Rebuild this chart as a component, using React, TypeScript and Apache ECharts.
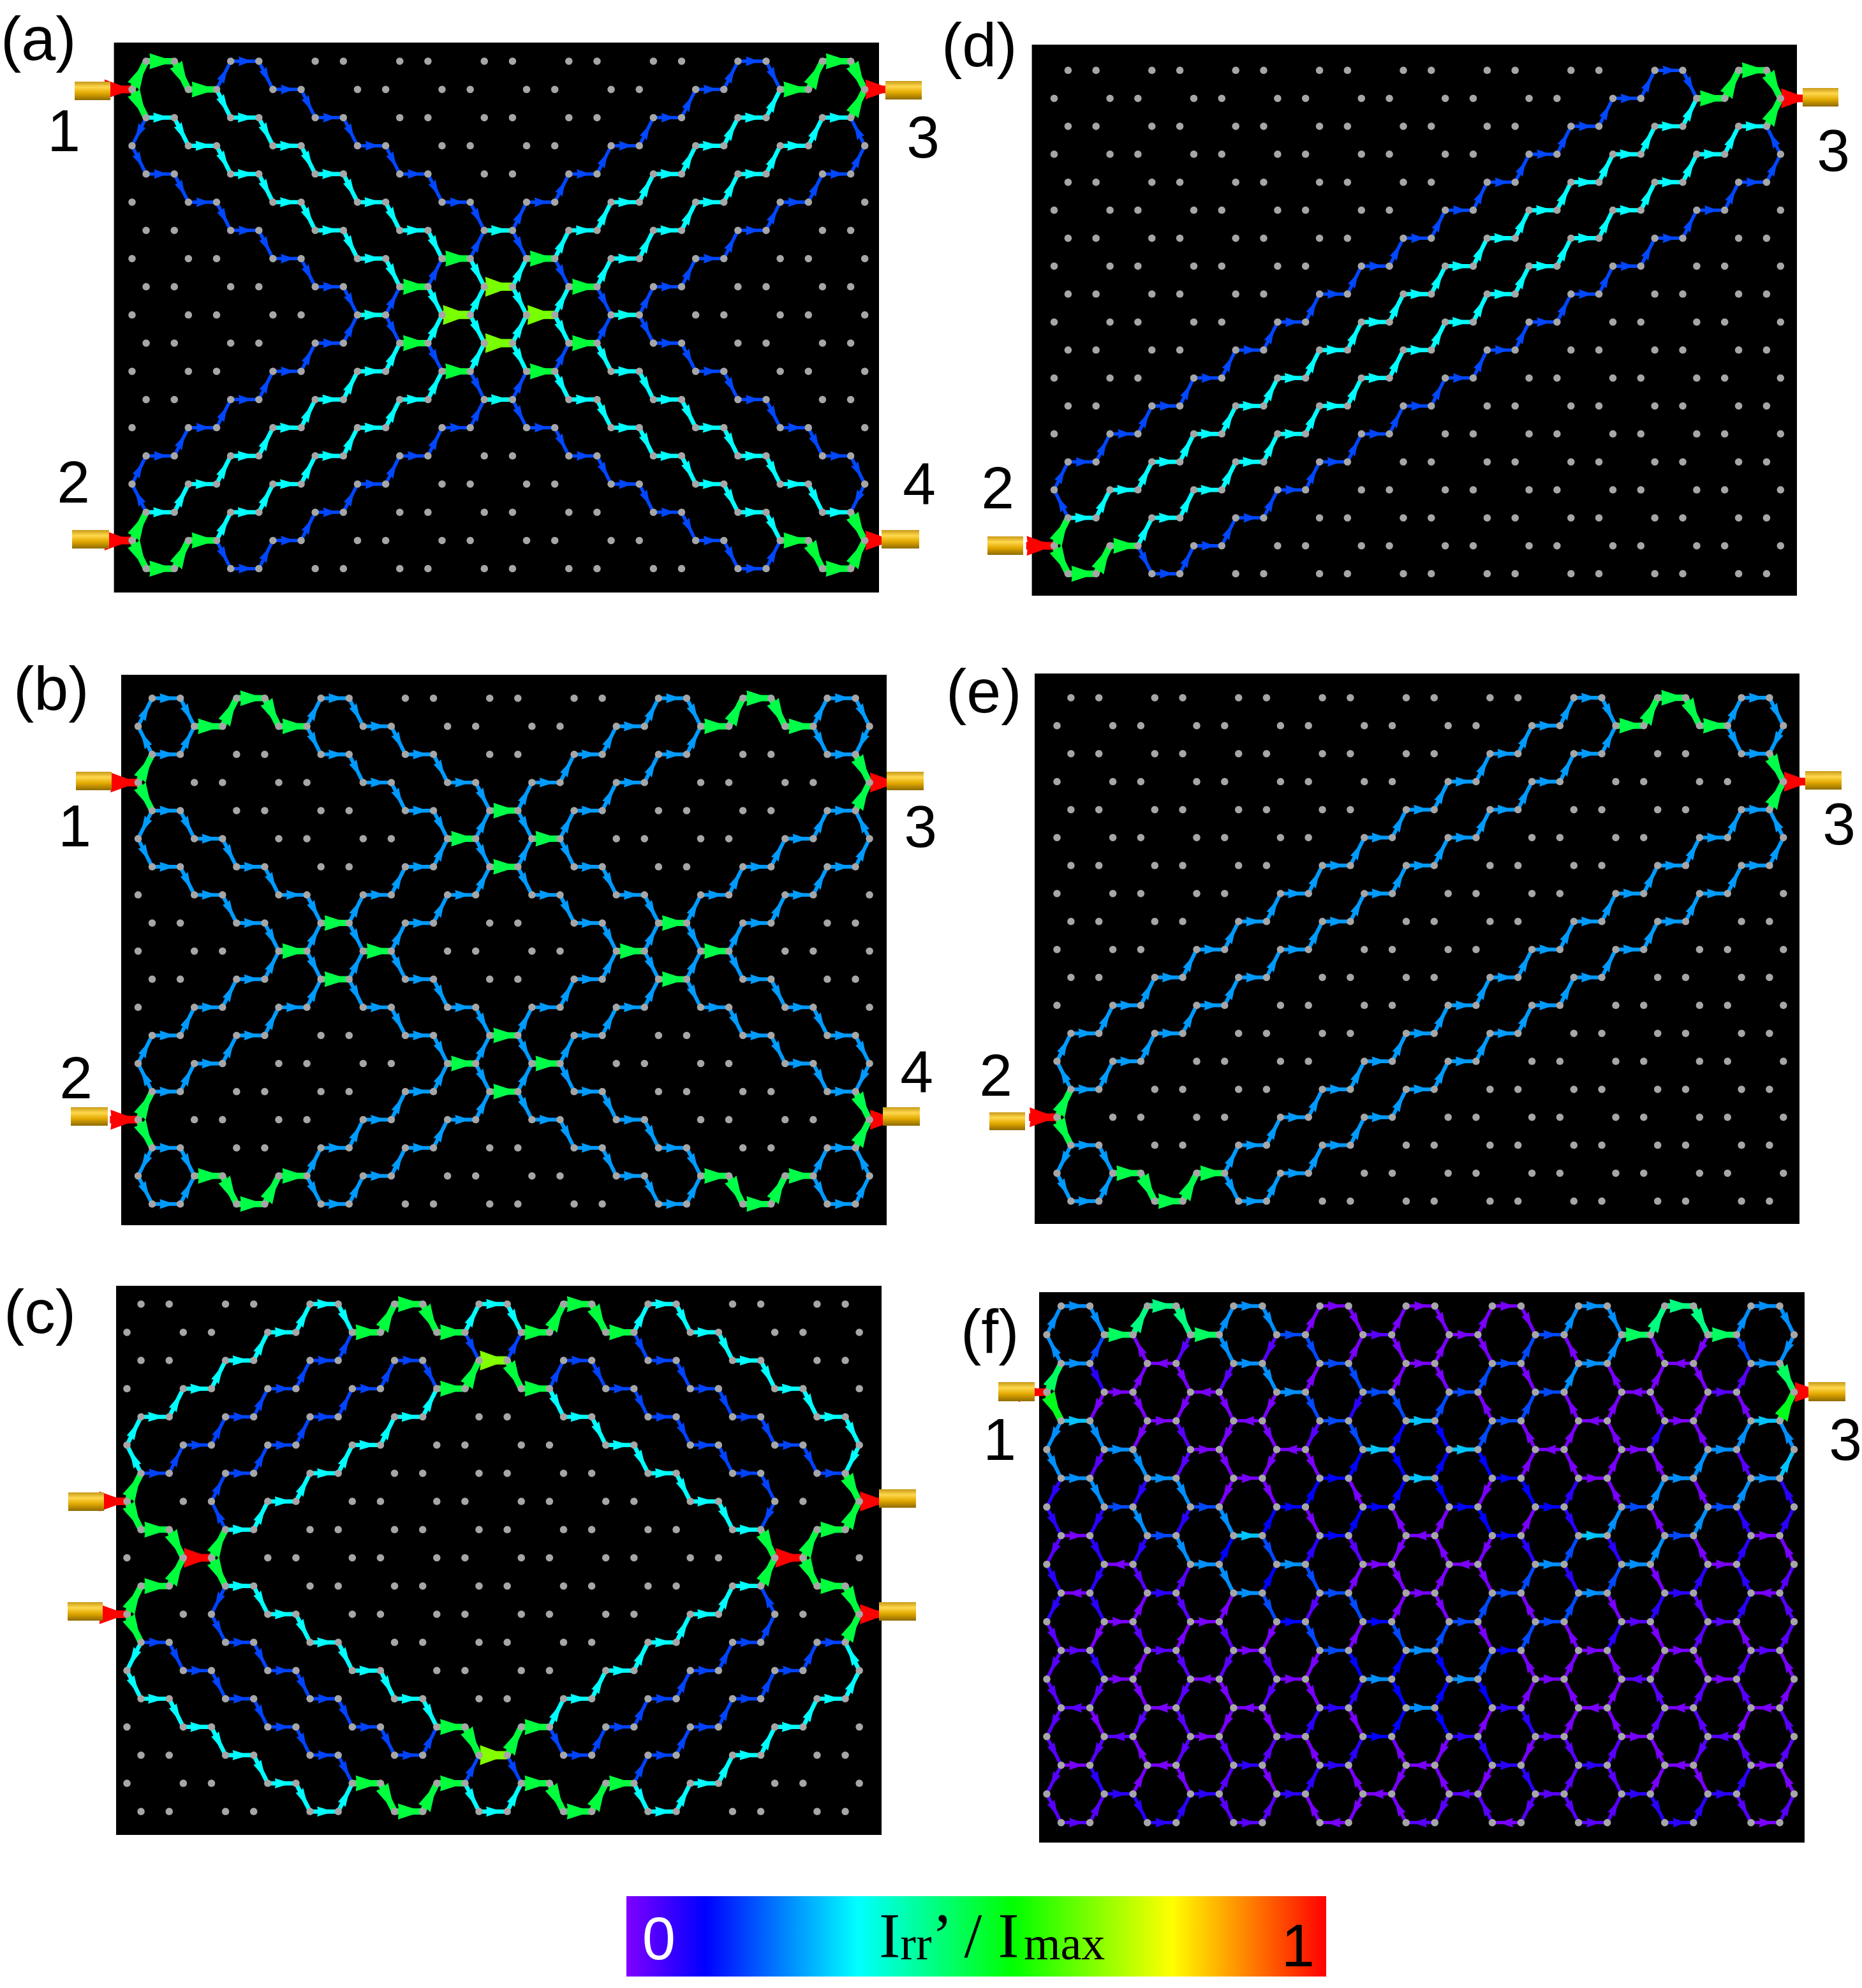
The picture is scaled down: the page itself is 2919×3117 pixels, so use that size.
import React, { useEffect, useRef } from "react";
import * as echarts from "echarts";

// ---- colour scale ----
const scaleStops = [0, 0.113, 0.33, 0.553, 0.78, 1];
const scaleColors = [[127, 0, 255], [0, 0, 255], [0, 255, 255], [0, 255, 0], [255, 255, 0], [255, 0, 0]];

// ---- lattice sites: columns in half-bond units ----
const latticeRows = [0, 1, 2, 3, 4, 5, 6, 7, 8, 9, 10, 11, 12, 13, 14, 15, 16, 17, 18];
const evenRowColumns = [1, 3, 7, 9, 13, 15, 19, 21, 25, 27, 31, 33, 37, 39, 43, 45, 49, 51];
const oddRowColumns = [0, 4, 6, 10, 12, 16, 18, 22, 24, 28, 30, 34, 36, 40, 42, 46, 48, 52];

// ---- current paths: moves h/H right/left bond, d/u right-down/up, D/U left-down/up ----
const rep = (s: string, n: number) => s.repeat(n);
const diagonalPaths = [
  "uhdhuh" + rep("dh", 14) + "dDd",
  "uhdh" + rep("dh", 15) + "d",
  "dh" + rep("dh", 16) + "u",
  "dDdh" + rep("dh", 14) + "uhdhu",
];
const diagonalCurrents = [0.173, 0.33, 0.33, 0.173];
const hexPaths = [
  "uUuhdhuhdh" + "uh" + rep("dh", 12) + "dDd",
  "uhuhuhdh" + "dh" + rep("dh", 12) + "d",
  "dh" + rep("dh", 12) + "dhdhuhuhu",
  "dDdh" + rep("dh", 12) + "uhdhuhdhuUu",
];
const hexCurrents = [0.245, 0.245, 0.245, 0.245];
const diamondPaths = [
  "uUuh" + rep("uh", 4) + "dhuhdh" + "uh" + "dhuhdhuh" + rep("dh", 4) + "dDd",
  "uh" + rep("uh", 5) + "uhdh" + "dh" + "uhuhdh" + rep("dh", 5) + "d",
  "dhdhuh" + rep("uh", 6) + rep("dh", 6) + "dhuhu",
  "dhdhuUuh" + rep("uh", 4) + "dhuhdhuh" + rep("dh", 4) + "dDdhuhu",
];
const diamondCurrents = [0.33, 0.17, 0.33, 0.17];

// ---- panel (f): one letter per bond; lower case = rightwards / downwards, upper case = reverse ----
const bondLevels: Record<string, number> = {
  a: 0.005, b: 0.035, c: 0.075, d: 0.115, e: 0.175, f: 0.235, g: 0.28, h: 0.44, i: 0.47, j: 0.53,
};
const fHorizontal = [
  "fhfaaafhf", "iiebaeii", "fAfeaefAf", "aAfeeeAb", "gaAegeAag", "faAggAaf", "ffadgdaff",
  "eeddddee", "aegdAdgea", "AffaAffa", "AcfeaefcA", "aaddeebb", "bbaefdaab", "aAaffaBa",
  "BAAcfcAAA", "BabdcbaB", "aAccAccAa", "cccABbcc", "bcbABAbca",
];
const fDiagonal = [
  "FfHhFfAaAaAaFfHhFf", "FEAbfbeAaAaEAFAaef", "IcAabfAeAaEaFAAaBi", "jaaaaaeceEAEAAAAAJ",
  "ffabaabeDdEAAACAFF", "fbfbaaaDdDdAAAAFBG", "cfcfaaDADdadCAFAFC", "ccfcfDaDAAdAcFAFCC",
  "bccfDeCbaAacEcFACA", "ccbBfDeAaAaEcEaCCB", "ccAbAebeAaEAEaCbCB", "babAbaeAeEaEACaBAB",
  "bcAbbbadDdEAAAAaBA", "bbababaCdDdAAABBBA", "babbaaCaDdAcAABBAB", "bbAbbBACAacabBAbBB",
  "bcAaBaCAaAacBbAaCA", "bBcCbBAaAbBbbBcCbB",
];

// ---- panel lists ----
type Edge = [number, number, number, number, number];
const panelNames = ["(a)", "(b)", "(c)", "(d)", "(e)", "(f)"];
const portRows = [
  { left: [1, 17], right: [1, 17] },
  { left: [3, 15], right: [3, 15] },
  { left: [7, 11], right: [7, 11] },
  { left: [17], right: [1] },
  { left: [15], right: [3] },
  { left: [3], right: [3] },
];
const portCurrent = 1;

// ---- layout ----
const W = 2919;
const H = 3117;
const panelBoxes = [
  { L: 178.6, T: 66.7, R: 1378, B: 929, x0: 207, u: 22.09, y0: 96, v: 44.2 },
  { L: 190, T: 1058, R: 1390, B: 1921, x0: 216.5, u: 22.05, y0: 1094.7, v: 44.06 },
  { L: 182, T: 2016, R: 1382, B: 2877, x0: 199, u: 22.08, y0: 2044.7, v: 44.2 },
  { L: 1617.6, T: 70, R: 2817, B: 934, x0: 1652.5, u: 21.9, y0: 110.3, v: 43.85 },
  { L: 1622, T: 1056, R: 2821, B: 1919, x0: 1657, u: 21.9, y0: 1094, v: 43.85 },
  { L: 1629, T: 2026, R: 2829, B: 2889, x0: 1641, u: 22.53, y0: 2047.7, v: 45 },
];
const goldBars = [
  [117, 128, 56, 29], [113, 831, 58, 29], [1388, 127, 57, 29], [1382, 831, 59, 29],
  [119, 1210, 56, 29], [111, 1736, 58, 29], [1390, 1210, 58, 29], [1384, 1736, 58, 29],
  [107, 2340, 56, 29], [106, 2512, 55, 29], [1378, 2335, 58, 29], [1378, 2512, 58, 29],
  [1548, 841, 56, 29], [2826, 138, 56, 29],
  [1551, 1744, 56, 28], [2830, 1209, 57, 29],
  [1565, 2167, 57, 30], [2835, 2167, 58, 30],
];
const panelLabelSpots = [
  [1, 60], [21, 1079], [6, 2056], [1476, 70], [1483, 1083], [1506, 2087],
];
const portLabels: [string, number, number][] = [
  ["1", 100, 205], ["2", 115, 756], ["3", 1447, 215], ["4", 1441, 758],
  ["1", 117, 1295], ["2", 119, 1690], ["3", 1443, 1296], ["4", 1437, 1680],
  ["2", 1564, 765], ["3", 2874, 236],
  ["2", 1561, 1686], ["3", 2883, 1292],
  ["1", 1567, 2257], ["3", 2893, 2257],
];

// arrow styling as a function of level
const sizeLevels = [0, 0.17, 0.33, 0.5, 0.66, 1];
const shaftWidths = [5.3, 5.3, 6.7, 10, 13, 12];
const headHalfWidths = [6.5, 6.5, 6.8, 10.8, 13.5, 13.5];
const headBacks = [0.28, 0.28, 0.25, 0.12, 0.03, 0.02];
const headTips = [0.76, 0.76, 0.85, 1, 1, 1];
const STRETCH = 1.155;

const lerpTable = (xs: number[], ys: number[], x: number) => {
  if (x <= xs[0]) return ys[0];
  for (let i = 1; i < xs.length; i++) {
    if (x <= xs[i]) {
      const t = (x - xs[i - 1]) / (xs[i] - xs[i - 1]);
      return ys[i - 1] + t * (ys[i] - ys[i - 1]);
    }
  }
  return ys[ys.length - 1];
};
const levelColor = (v: number) => {
  const c = [0, 1, 2].map((k) => Math.round(lerpTable(scaleStops, scaleColors.map((s) => s[k]), Math.min(v, 1))));
  return `rgb(${c[0]},${c[1]},${c[2]})`;
};

const addEdge = (map: Map<string, Edge>, r1: number, c1: number, r2: number, c2: number, v: number) => {
  const key = `${r1},${c1},${r2},${c2}`;
  const cur = map.get(key);
  if (cur) cur[4] += v;
  else map.set(key, [c1, r1, c2, r2, v]);
};
const walk = (map: Map<string, Edge>, startRow: number, moves: string, v: number, flip: boolean) => {
  let r = startRow;
  let c = 0;
  for (const m of moves) {
    let dr = 0;
    let dc = 0;
    if (m === "h") dc = 2;
    if (m === "H") dc = -2;
    if (m === "d") { dr = 1; dc = 1; }
    if (m === "u") { dr = -1; dc = 1; }
    if (m === "D") { dr = 1; dc = -1; }
    if (m === "U") { dr = -1; dc = -1; }
    if (flip) addEdge(map, 18 - r, c, 18 - (r + dr), c + dc, v);
    else addEdge(map, r, c, r + dr, c + dc, v);
    r += dr;
    c += dc;
  }
};
const pathsEdges = (groups: { row: number; flip: boolean }[], paths: string[], currents: number[]) => {
  const map = new Map<string, Edge>();
  groups.forEach((g) => paths.forEach((p, i) => walk(map, g.row, p, currents[i], g.flip)));
  return Array.from(map.values());
};
const fEdges = () => {
  const out: Edge[] = [];
  fHorizontal.forEach((codes, r) => {
    const starts = (r % 2 === 0 ? evenRowColumns : oddRowColumns.slice(1, -1)).filter((_, i) => i % 2 === 0);
    codes.split("").forEach((ch, i) => {
      const v = bondLevels[ch.toLowerCase()];
      const c = starts[i];
      if (ch === ch.toLowerCase()) out.push([c, r, c + 2, r, v]);
      else out.push([c + 2, r, c, r, v]);
    });
  });
  fDiagonal.forEach((codes, r) => {
    const evenRow = r % 2 === 0 ? r : r + 1;
    const oddRow = r % 2 === 0 ? r + 1 : r;
    codes.split("").forEach((ch, i) => {
      const v = bondLevels[ch.toLowerCase()];
      const ce = evenRowColumns[i];
      const co = ce % 6 === 1 ? ce - 1 : ce + 1;
      const upper = r === evenRow ? [ce, evenRow] : [co, oddRow];
      const lower = r === evenRow ? [co, oddRow] : [ce, evenRow];
      if (ch === ch.toLowerCase()) out.push([upper[0], upper[1], lower[0], lower[1], v]);
      else out.push([lower[0], lower[1], upper[0], upper[1], v]);
    });
  });
  return out;
};

const panelEdges = (i: number): Edge[] => {
  let edges: Edge[] = [];
  if (i === 0) edges = pathsEdges([{ row: 1, flip: false }, { row: 1, flip: true }], diagonalPaths, diagonalCurrents);
  if (i === 1) edges = pathsEdges([{ row: 3, flip: false }, { row: 3, flip: true }], hexPaths, hexCurrents);
  if (i === 2) edges = pathsEdges([{ row: 7, flip: false }, { row: 7, flip: true }], diamondPaths, diamondCurrents);
  if (i === 3) edges = pathsEdges([{ row: 1, flip: true }], diagonalPaths, diagonalCurrents);
  if (i === 4) edges = pathsEdges([{ row: 3, flip: true }], hexPaths, hexCurrents);
  if (i === 5) edges = fEdges();
  portRows[i].left.forEach((r) => edges.push([-2, r, 0, r, portCurrent]));
  portRows[i].right.forEach((r) => edges.push([52, r, 54, r, portCurrent]));
  return edges;
};

const latticeSites = () => {
  const out: number[][] = [];
  latticeRows.forEach((r) => (r % 2 === 0 ? evenRowColumns : oddRowColumns).forEach((c) => out.push([c, r])));
  return out;
};

const renderEdge = (_: any, api: any) => {
  const a = api.coord([api.value(0), api.value(1)]);
  const b = api.coord([api.value(2), api.value(3)]);
  const v = api.value(4);
  const color = levelColor(v);
  const dx = b[0] - a[0];
  const dy = b[1] - a[1];
  const ny = dy / STRETCH;
  const len = Math.hypot(dx, ny);
  const ux = dx / len;
  const uy = ny / len;
  const hw = lerpTable(sizeLevels, headHalfWidths, v);
  const t0 = lerpTable(sizeLevels, headBacks, v);
  const t1 = lerpTable(sizeLevels, headTips, v);
  const at = (t: number, n: number) => [a[0] + dx * t - uy * n, a[1] + dy * t + ux * n * STRETCH];
  return {
    type: "group",
    children: [
      {
        type: "line",
        shape: { x1: a[0], y1: a[1], x2: b[0], y2: b[1] },
        style: { stroke: color, lineWidth: lerpTable(sizeLevels, shaftWidths, v), fill: null },
      },
      {
        type: "polygon",
        shape: { points: [at(t0, hw), at(t1, 0), at(t0, -hw), at(t0 + 0.04, 0)] },
        style: { fill: color, stroke: null },
      },
    ],
  };
};

const buildOption = () => {
  const grid = panelBoxes.map((p) => ({
    show: true,
    left: p.L,
    top: p.T,
    width: p.R - p.L,
    height: p.B - p.T,
    backgroundColor: "#000",
    borderWidth: 0,
  }));
  const xAxis = panelBoxes.map((p, i) => ({
    type: "value",
    gridIndex: i,
    show: false,
    min: (p.L - p.x0) / p.u,
    max: (p.R - p.x0) / p.u,
  }));
  const yAxis = panelBoxes.map((p, i) => ({
    type: "value",
    gridIndex: i,
    show: false,
    inverse: true,
    min: (p.T - p.y0) / p.v,
    max: (p.B - p.y0) / p.v,
  }));
  const sites = latticeSites();
  const series: any[] = [];
  panelBoxes.forEach((_, i) => {
    series.push({
      type: "custom",
      xAxisIndex: i,
      yAxisIndex: i,
      z: 2,
      silent: true,
      renderItem: renderEdge,
      encode: { x: [0, 2], y: [1, 3] },
      data: panelEdges(i),
    });
    series.push({
      type: "scatter",
      xAxisIndex: i,
      yAxisIndex: i,
      z: 3,
      silent: true,
      symbol: "circle",
      symbolSize: 11.5,
      itemStyle: { color: "#a6a6a6", opacity: 1 },
      data: sites,
    });
  });

  const sans = "'Liberation Sans', Arial, sans-serif";
  const serif = "'Liberation Serif', 'Times New Roman', serif";
  const graphic: any[] = [];
  goldBars.forEach(([x, y, w, h]) => {
    graphic.push({
      type: "rect",
      z: 50,
      shape: { x, y, width: w, height: h },
      style: {
        fill: new echarts.graphic.LinearGradient(0, 0, 0, 1, [
          { offset: 0, color: "#c89a18" },
          { offset: 0.3, color: "#ffd84d" },
          { offset: 0.62, color: "#e2a900" },
          { offset: 1, color: "#8f6b00" },
        ]),
      },
    });
  });
  panelNames.forEach((t, i) => {
    graphic.push({
      type: "text",
      z: 60,
      x: panelLabelSpots[i][0],
      y: panelLabelSpots[i][1],
      style: { text: t, fontSize: 97, fontFamily: sans, fill: "#000", align: "left", verticalAlign: "middle" },
    });
  });
  portLabels.forEach(([t, x, y]) => {
    graphic.push({
      type: "text",
      z: 60,
      x,
      y,
      style: { text: t, fontSize: 93, fontFamily: sans, fill: "#000", align: "center", verticalAlign: "middle" },
    });
  });
  graphic.push({
    type: "rect",
    z: 50,
    shape: { x: 982, y: 2973, width: 1097, height: 126 },
    style: {
      fill: new echarts.graphic.LinearGradient(
        0, 0, 1, 0,
        scaleStops.map((s, i) => ({ offset: s, color: `rgb(${scaleColors[i].join(",")})` })),
      ),
    },
  });
  graphic.push({
    type: "text", z: 60, x: 1033, y: 3039,
    style: { text: "0", fontSize: 94, fontFamily: sans, fill: "#fff", align: "center", verticalAlign: "middle" },
  });
  graphic.push({
    type: "text", z: 60, x: 2035, y: 3050,
    style: { text: "1", fontSize: 94, fontFamily: sans, fill: "#000", align: "center", verticalAlign: "middle" },
  });
  graphic.push({
    type: "text", z: 60, x: 1378, y: 3034,
    style: {
      text: "{b|I}{s|rr}{b|’ / I}{s|max}",
      align: "left",
      verticalAlign: "middle",
      fill: "#000",
      rich: {
        b: { fontSize: 100, fontFamily: serif, fill: "#000", lineHeight: 100, verticalAlign: "bottom" },
        s: { fontSize: 74, fontFamily: serif, fill: "#000", lineHeight: 34, verticalAlign: "bottom" },
      },
    },
  });
  return { animation: false, backgroundColor: "#fff", grid, xAxis, yAxis, series, graphic };
};

export default function App() {
  const ref = useRef<HTMLDivElement>(null);
  useEffect(() => {
    const chart = echarts.init(ref.current!, undefined, { renderer: "svg" });
    chart.setOption(buildOption() as any);
    return () => chart.dispose();
  }, []);
  return <div ref={ref} style={{ position: "absolute", left: 0, top: 0, width: W, height: H }} />;
}
